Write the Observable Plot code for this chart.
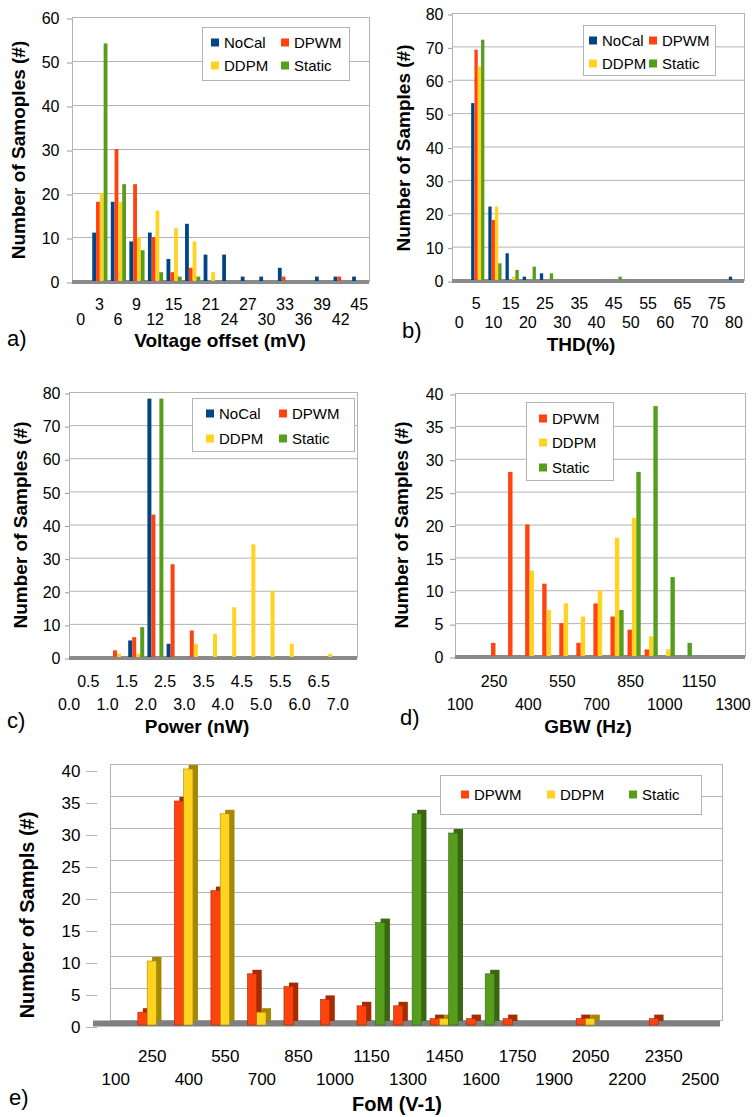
<!DOCTYPE html>
<html><head><meta charset="utf-8">
<script src="https://cdn.jsdelivr.net/npm/d3@7"></script>
<script src="https://cdn.jsdelivr.net/npm/@observablehq/plot@0.6"></script>
<style>
body{margin:0;background:#fff;font-family:'Liberation Sans',Arial,sans-serif;color:#000;}
#fig{position:relative;width:753px;height:1117px;overflow:hidden;background:#fff;}
.panel{position:absolute;}
.xt{position:absolute;font-weight:bold;font-size:19px;transform:translate(-50%,-50%);white-space:nowrap;}
.yt{position:absolute;font-weight:bold;font-size:19px;transform:translate(-50%,-50%) rotate(-90deg);white-space:nowrap;}
.lt{position:absolute;font-size:22px;transform:translate(0,-50%);white-space:nowrap;}
.leg{position:absolute;border:1px solid #b3b3b3;background:#fff;box-sizing:border-box;}
.li{position:absolute;font-size:15px;transform:translate(0,-50%);white-space:nowrap;display:flex;align-items:center;}
.sw{display:inline-block;width:8px;height:8px;margin-right:5px;}
</style></head>
<body><div id="fig"></div>
<script>
// ---------- data ----------
const seriesNames = ["NoCal", "DPWM", "DDPM", "Static"];
const seriesColors = {NoCal: "#004586", DPWM: "#ff420e", DDPM: "#ffd320", Static: "#579d1c"};
const sideColors = {DPWM: "#a52b00", DDPM: "#a38800", Static: "#386612"};

// a) Voltage offset (mV)
const voltBins   = [0,3,6,9,12,15,18,21,24,27,30,33,36,39,42,45];
const voltNoCal  = [0,11,18,9,11,5,13,6,6,1,1,3,0,1,1,1];
const voltDPWM   = [0,18,30,22,10,2,3,0,0,0,0,1,0,0,1,0];
const voltDDPM   = [0,20,18,10,16,12,9,2,0,0,0,0,0,0,0,0];
const voltStatic = [0,54,22,7,2,1,1,0,0,0,0,0,0,0,0,0];
const voltTicksTop = [3,9,15,21,27,33,39,45];
const voltTicksBottom = [0,6,12,18,24,30,36,42];

// b) THD (%)
const thdBins   = [0,5,10,15,20,25,30,35,40,45,50,55,60,65,70,75,80];
const thdNoCal  = [0,53,22,8,1,2,0,0,0,0,0,0,0,0,0,0,1];
const thdDPWM   = [0,69,18,0,0,0,0,0,0,0,0,0,0,0,0,0,0];
const thdDDPM   = [0,64,22,1,0,0,0,0,0,0,0,0,0,0,0,0,0];
const thdStatic = [0,72,5,3,4,2,0,0,0,1,0,0,0,0,0,0,0];
const thdTicksTop = [5,15,25,35,45,55,65,75];
const thdTicksBottom = [0,10,20,30,40,50,60,70,80];

// c) Power (nW)
const powerBins   = [0,0.5,1,1.5,2,2.5,3,3.5,4,4.5,5,5.5,6,6.5,7];
const powerNoCal  = [0,0,0,5,78,4,0,0,0,0,0,0,0,0,0];
const powerDPWM   = [0,0,2,6,43,28,8,0,0,0,0,0,0,0,0];
const powerDDPM   = [0,0,1,1,0,0,4,7,15,34,20,4,0,1,0];
const powerStatic = [0,0,0,9,78,0,0,0,0,0,0,0,0,0,0];
const powerTicksTop = [0.5,1.5,2.5,3.5,4.5,5.5,6.5];
const powerTicksBottom = [0,1,2,3,4,5,6,7];

// d) GBW (Hz)
const gbwBins   = [100,175,250,325,400,475,550,625,700,775,850,925,1000,1075,1150,1225,1300];
const gbwDPWM   = [0,0,2,28,20,11,5,2,8,6,4,1,0,0,0,0,0];
const gbwDDPM   = [0,0,0,0,13,7,8,6,10,18,21,3,1,0,0,0,0];
const gbwStatic = [0,0,0,0,0,0,0,0,0,7,28,38,12,2,0,0,0];
const gbwTicksTop = [250,550,850,1150];
const gbwTicksBottom = [100,400,700,1000,1300];

// e) FoM (V-1)
const fomBins   = [100,250,400,550,700,850,1000,1150,1300,1450,1600,1750,1900,2050,2200,2350,2500];
const fomDPWM   = [0,2,35,21,8,6,4,3,3,1,1,1,0,1,0,1,0];
const fomDDPM   = [0,10,40,33,2,0,0,0,0,1,0,0,0,1,0,0,0];
const fomStatic = [0,0,0,0,0,0,0,16,33,30,8,0,0,0,0,0,0];
const fomTicksTop = [250,550,850,1150,1450,1750,2050,2350];
const fomTicksBottom = [100,400,700,1000,1300,1600,1900,2200,2500];

// ---------- helpers ----------
const FONT = "'Liberation Sans', Arial, sans-serif";
const fig = document.getElementById("fig");

function toRows(cats, bySeries) {
  const rows = [];
  for (const [s, vals] of Object.entries(bySeries))
    cats.forEach((c, i) => { if (vals[i] > 0) rows.push({cat: c, series: s, value: vals[i]}); });
  return rows;
}

function place(node, left, top) {
  const d = document.createElement("div");
  d.className = "panel";
  d.style.left = left + "px"; d.style.top = top + "px";
  d.appendChild(node);
  fig.appendChild(d);
}

function addText(cls, text, x, y, extra) {
  const d = document.createElement("div");
  d.className = cls; d.textContent = text;
  d.style.left = x + "px"; d.style.top = y + "px";
  if (extra) Object.assign(d.style, extra);
  fig.appendChild(d);
}

function addLegend(box, items) {
  const b = document.createElement("div");
  b.className = "leg";
  b.style.left = box.x + "px"; b.style.top = box.y + "px";
  b.style.width = box.w + "px"; b.style.height = box.h + "px";
  fig.appendChild(b);
  for (const it of items) {
    const d = document.createElement("div");
    d.className = "li";
    d.style.left = it.x + "px"; d.style.top = it.y + "px";
    const sw = document.createElement("span");
    sw.className = "sw"; sw.style.background = seriesColors[it.s];
    d.appendChild(sw);
    d.appendChild(document.createTextNode(it.s));
    fig.appendChild(d);
  }
}

function barPanel(cfg) {
  const {cats, bySeries, w, h, mL, mR, mT, mB, yMax, yStep, top, bottom, off1, off2, fmt, barW, fs, ySize, yPad, tdx} = cfg;
  const names = Object.keys(bySeries);
  const rows = toRows(cats, bySeries);
  const bw = (w - mL - mR) / cats.length;
  const base = (bw - names.length * barW) / 2;
  const yTicks = d3.range(0, yMax + yStep / 2, yStep);
  const marks = [
    Plot.gridY(yTicks, {stroke: "#b3b3b3", strokeOpacity: 1}),
    Plot.frame({stroke: "#b3b3b3"}),
    Plot.ruleY([0], {stroke: "#8a8a8a", strokeWidth: 4, dy: 0.5}),
    ...names.map((s, i) => Plot.barY(rows.filter(d => d.series === s), {
      x: "cat", y: "value", fill: seriesColors[s],
      insetLeft: base + i * barW, insetRight: bw - base - (i + 1) * barW
    })),
    Plot.axisY(yTicks, {tickSize: ySize, tickPadding: yPad, fontSize: fs, stroke: "#9a9a9a", dy: 1.5, label: null}),
    Plot.axisX(top, {anchor: "bottom", tickSize: 0, tickPadding: off1 - 0.36 * fs, fontSize: fs, tickFormat: fmt, label: null, dx: tdx || 0}),
    Plot.axisX(bottom, {anchor: "bottom", tickSize: 0, tickPadding: off2 - 0.36 * fs, fontSize: fs, tickFormat: fmt, label: null, dx: tdx || 0})
  ];
  return Plot.plot({
    width: w, height: h, marginLeft: mL, marginRight: mR, marginTop: mT, marginBottom: mB,
    style: {fontFamily: FONT, fontSize: fs + "px", background: "transparent", overflow: "visible", color: "#000"},
    x: {type: "band", domain: cats, padding: 0, round: false, axis: null},
    y: {domain: [0, yMax], axis: null},
    marks
  });
}

// ---------- panel a ----------
place(barPanel({
  cats: voltBins, bySeries: {NoCal: voltNoCal, DPWM: voltDPWM, DDPM: voltDDPM, Static: voltStatic},
  w: 380, h: 335, mL: 72, mR: 11, mT: 17, mB: 54, yMax: 60, yStep: 10,
  top: voltTicksTop, bottom: voltTicksBottom, off1: 23, off2: 38, fmt: d => String(d),
  barW: 3.8, fs: 16, ySize: 5, yPad: 8, tdx: -1
}), 0, 0);

// ---------- panel b ----------
place(barPanel({
  cats: thdBins, bySeries: {NoCal: thdNoCal, DPWM: thdDPWM, DDPM: thdDDPM, Static: thdStatic},
  w: 373, h: 335, mL: 72, mR: 9, mT: 13, mB: 55, yMax: 80, yStep: 10,
  top: thdTicksTop, bottom: thdTicksBottom, off1: 23, off2: 42, fmt: d => String(d),
  barW: 3.3, fs: 16, ySize: 4, yPad: 5, tdx: -2
}), 380, 0);

// ---------- panel c ----------
place(barPanel({
  cats: powerBins, bySeries: {NoCal: powerNoCal, DPWM: powerDPWM, DDPM: powerDDPM, Static: powerStatic},
  w: 380, h: 345, mL: 69, mR: 23, mT: 22, mB: 58, yMax: 80, yStep: 10,
  top: powerTicksTop, bottom: powerTicksBottom, off1: 24, off2: 47, fmt: d => d.toFixed(1),
  barW: 4, fs: 16, ySize: 4, yPad: 5, tdx: -10
}), 0, 370);

// ---------- panel d ----------
place(barPanel({
  cats: gbwBins, bySeries: {DPWM: gbwDPWM, DDPM: gbwDDPM, Static: gbwStatic},
  w: 373, h: 345, mL: 75, mR: 8, mT: 23, mB: 59, yMax: 40, yStep: 5,
  top: gbwTicksTop, bottom: gbwTicksBottom, off1: 24.5, off2: 48, fmt: d => String(d),
  barW: 4.4, fs: 16, ySize: 5, yPad: 7, tdx: -4
}), 380, 370);

// ---------- panel e (3D-style bars) ----------
(function () {
  const bySeries = {DPWM: fomDPWM, DDPM: fomDDPM, Static: fomStatic};
  const names = Object.keys(bySeries);
  const rows = toRows(fomBins, bySeries);
  const w = 753, h = 377, mL = 97, mR = 35, mT = 29, mB = 92, fs = 17;
  const bw = (w - mL - mR) / fomBins.length, barW = 9.3;
  const base = (bw - names.length * barW) / 2;
  const yTicks = d3.range(0, 41, 5);
  const marks = [
    Plot.ruleY(yTicks, {stroke: "#b3b3b3", insetLeft: 13, insetRight: -4, dy: -5}),
    Plot.frame({stroke: "#b3b3b3", insetLeft: 13, insetRight: -4, dy: -5}),
    Plot.ruleY([0], {stroke: "#808080", strokeWidth: 6, dy: -2, insetLeft: -4, insetRight: -2}),
  ];
  names.forEach((s, i) => {
    const data = rows.filter(d => d.series === s);
    const opts = {x: "cat", y: "value", insetLeft: base + i * barW, insetRight: bw - base - (i + 1) * barW};
    marks.push(Plot.barY(data, {...opts, fill: sideColors[s], dx: 5, dy: -4}));
    marks.push(Plot.barY(data, {...opts, fill: seriesColors[s], stroke: sideColors[s], strokeWidth: 0.6}));
  });
  marks.push(
    Plot.axisY(yTicks, {tickSize: 11, tickPadding: 6, fontSize: fs, stroke: "#b3b3b3", dy: 2, label: null}),
    Plot.axisX(fomTicksTop, {anchor: "bottom", tickSize: 0, tickPadding: 31 - 0.36 * fs, fontSize: fs, label: null, tickFormat: d => String(d)}),
    Plot.axisX(fomTicksBottom, {anchor: "bottom", tickSize: 0, tickPadding: 54 - 0.36 * fs, fontSize: fs, label: null, tickFormat: d => String(d)})
  );
  place(Plot.plot({
    width: w, height: h, marginLeft: mL, marginRight: mR, marginTop: mT, marginBottom: mB,
    style: {fontFamily: FONT, fontSize: fs + "px", background: "transparent", overflow: "visible", color: "#000"},
    x: {type: "band", domain: fomBins, padding: 0, round: false, axis: null},
    y: {domain: [0, 40], axis: null},
    marks
  }), 0, 740);
})();

// ---------- titles, letters ----------
addText("xt", "Voltage offset (mV)", 220, 341);
addText("xt", "THD(%)", 581, 345);
addText("xt", "Power (nW)", 197, 727);
addText("xt", "GBW (Hz)", 588, 727);
addText("xt", "FoM (V-1)", 397, 1104, {fontSize: "20px"});

addText("yt", "Number of Samoples (#)", 19, 150);
addText("yt", "Number of Samples (#)", 404, 148);
addText("yt", "Number of Samples (#)", 21, 525);
addText("yt", "Number of Samples (#)", 402, 525);
addText("yt", "Number of Sampls (#)", 27, 915, {fontSize: "20px"});

addText("lt", "a)", 7, 339);
addText("lt", "b)", 402, 331);
addText("lt", "c)", 7, 721);
addText("lt", "d)", 400, 718);
addText("lt", "e)", 9, 1098);

// ---------- legends ----------
addLegend({x: 202, y: 27, w: 148, h: 54}, [
  {s: "NoCal", x: 211, y: 42}, {s: "DPWM", x: 281, y: 42},
  {s: "DDPM", x: 211, y: 65}, {s: "Static", x: 281, y: 65}
]);
addLegend({x: 583, y: 25, w: 133, h: 51}, [
  {s: "NoCal", x: 589, y: 40}, {s: "DPWM", x: 649, y: 40},
  {s: "DDPM", x: 589, y: 63}, {s: "Static", x: 649, y: 63}
]);
addLegend({x: 192, y: 398, w: 163, h: 54}, [
  {s: "NoCal", x: 206, y: 413}, {s: "DPWM", x: 279, y: 413},
  {s: "DDPM", x: 206, y: 438}, {s: "Static", x: 279, y: 438}
]);
addLegend({x: 526, y: 402, w: 88, h: 79}, [
  {s: "DPWM", x: 539, y: 418}, {s: "DDPM", x: 539, y: 442}, {s: "Static", x: 539, y: 467}
]);
addLegend({x: 440, y: 775, w: 262, h: 40}, [
  {s: "DPWM", x: 461, y: 794}, {s: "DDPM", x: 547, y: 794}, {s: "Static", x: 629, y: 794}
]);
</script>
</body></html>
